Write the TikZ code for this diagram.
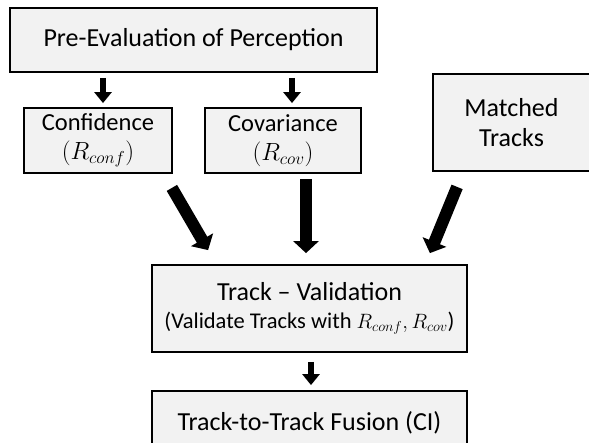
\documentclass[tikz,border=0pt]{standalone}
\usepackage{fontspec}
\setmainfont{Carlito}
\usetikzlibrary{arrows.meta}
\tikzset{
  box/.style={draw=black, line width=1.8pt, fill=boxgray, inner sep=0pt, align=center},
  bigfont/.style={font=\fontsize{26}{30}\selectfont},
  midfont/.style={font=\fontsize{24.5}{32}\selectfont},
  smallarrow/.style={draw=black, line width=6.5pt, -{Triangle[width=17pt,length=11pt]}},
  bigarrow/.style={draw=black, line width=12pt, -{Triangle[width=25pt,length=12pt]}}
}
\definecolor{boxgray}{HTML}{F2F2F2}
\begin{document}
\begin{tikzpicture}[x=1pt,y=-1pt]
\useasboundingbox (0,0) rectangle (589,443);
\clip (0,0) rectangle (589,443);
\node[box,bigfont,minimum width=367pt,minimum height=64pt] (pre) at (193.5,40) {Pre-Evaluation of Perception};
\node[box,midfont,minimum width=148pt,minimum height=65pt] (conf) at (98,140.5) {\raisebox{-3pt}{Confidence}\\$(R_{conf})$};
\node[box,midfont,minimum width=156pt,minimum height=65pt] (cov) at (283,140.5) {\raisebox{-3pt}{Covariance}\\$(R_{cov})$};
\node[box,bigfont,minimum width=157pt,minimum height=97pt] (match) at (511.5,122.5) {Matched\\Tracks};
\node[box,bigfont,minimum width=315pt,minimum height=87pt] (val) at (309.5,308.5) {Track -- Validation\\[-2pt]{\fontsize{22.5}{24}\selectfont (Validate Tracks with $R_{conf},R_{cov}$)}};
\node[box,bigfont,minimum width=315pt,minimum height=64pt] (fus) at (309.5,423) {Track-to-Track Fusion (CI)};
% small arrows
\draw[smallarrow, shorten <=5pt, shorten >=4pt] ([xshift=5pt]conf.north |- pre.south) -- ([xshift=5pt]conf.north);
\draw[smallarrow, shorten <=5pt, shorten >=4pt] ([xshift=9pt]cov.north |- pre.south) -- ([xshift=9pt]cov.north);
\draw[smallarrow, shorten <=9pt, shorten >=5pt] ([xshift=1.5pt]val.south) -- ([xshift=1.5pt]fus.north);
% big arrows
\draw[bigarrow] ([shift={(-1,14)}]conf.south east) -- ([shift={(57,-14)}]val.north west);
\draw[bigarrow, shorten <=5pt, shorten >=11pt] ([xshift=23pt]cov.south) -- ([xshift=23pt]cov.south |- val.north);
\draw[bigarrow] ([shift={(25,15)}]match.south west) -- ([shift={(-38,-11)}]val.north east);
\end{tikzpicture}
\end{document}
